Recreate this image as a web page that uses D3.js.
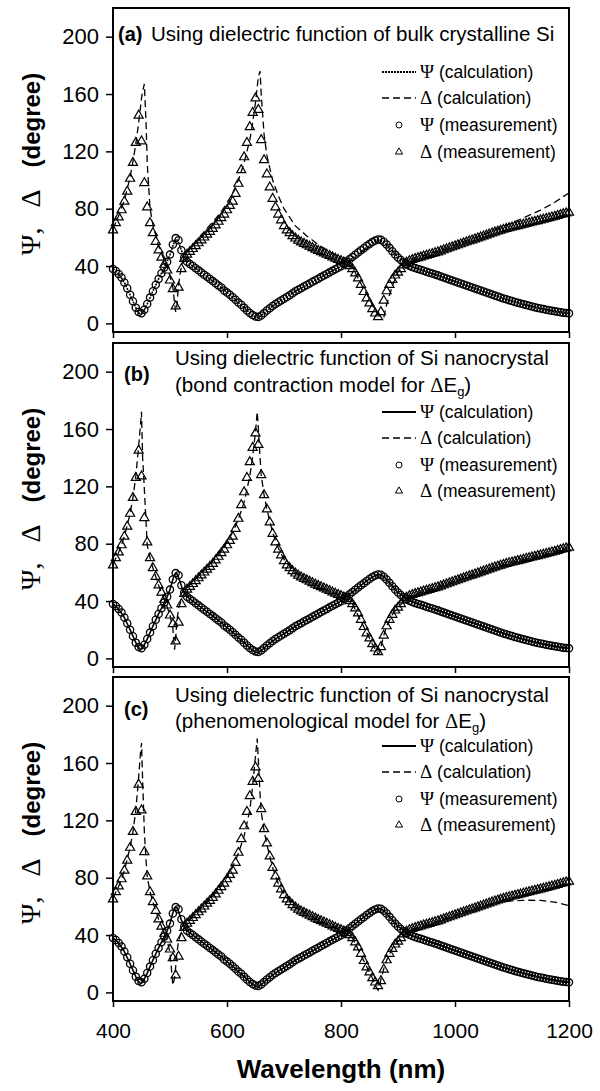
<!DOCTYPE html>
<html>
<head>
<meta charset="utf-8">
<script src="https://cdnjs.cloudflare.com/ajax/libs/d3/7.8.5/d3.min.js"></script>
<style>
  body { margin: 0; background: #fff; }
  svg { display: block; }
</style>
</head>
<body>
<script>
// measurement grid, 5 nm step
const measWl = d3.range(400, 1201, 5);

// measured ellipsometric angles (same sample in all three panels)
const psiMeas = [
  38, 36.5, 34.5, 32, 28.5, 24.5, 20, 15.5, 11, 8,
  7, 9.5, 13.5, 18, 22.5, 27, 31, 35, 39, 43,
  48, 55, 59.5, 58, 51, 46, 43, 41.5, 40, 38.5,
  37, 35.5, 34, 32.5, 31, 29.5, 28, 26.5, 25, 23,
  21.5, 20, 18.3, 16.5, 14.5, 13, 11, 9, 7.3, 5.8,
  4.8, 4.5, 5.5, 7.2, 9, 10.6, 12.1, 13.5, 14.8, 16,
  17.2, 18.4, 19.6, 21, 22.4, 23.5, 24.6, 25.7, 26.8, 27.9,
  29, 30.1, 31.2, 32.3, 33.4, 34.5, 35.6, 36.7, 37.8, 38.8,
  39.9, 41.5, 43.1, 44.7, 46.3, 47.9, 49.5, 51, 52.5, 54,
  55.4, 56.7, 57.8, 58.5, 58.3, 57, 55, 52.7, 50.3, 48,
  46, 44.2, 42.6, 41.3, 40.2, 39.3, 38.6, 38, 37.4, 36.7,
  36, 35.4, 34.8, 34.1, 33.5, 32.8, 32.1, 31.4, 30.7, 30,
  29.3, 28.6, 27.9, 27.2, 26.5, 25.8, 25.1, 24.4, 23.7, 23,
  22.3, 21.6, 20.9, 20.2, 19.5, 18.8, 18.1, 17.4, 16.8, 16.2,
  15.6, 15, 14.4, 13.8, 13.3, 12.8, 12.3, 11.8, 11.3, 10.8,
  10.4, 10, 9.6, 9.2, 8.8, 8.4, 8.1, 7.8, 7.5, 7.2,
  7
];
const deltaMeas = [
  65, 70, 74, 79, 85, 92, 101, 112, 126, 145,
  127, 98, 81, 70, 63, 57, 51, 46, 41, 37,
  30, 24, 12, 25, 38, 45, 48, 50, 52, 54,
  56, 58, 60, 62, 64, 66, 68.5, 71, 73.5, 76,
  79, 82, 85, 90.5, 97.5, 107, 116, 126, 137, 147,
  157, 149, 128, 114, 104, 95, 87, 81, 76, 72,
  68, 65, 63, 61, 59.3, 57.8, 56.6, 55.6, 54.6, 53.6,
  52.6, 51.6, 50.7, 49.8, 48.9, 48, 47.1, 46.2, 45.3, 44.4,
  43.6, 42.6, 41.5, 40, 38, 35, 31.5, 27, 22, 17.5,
  14, 10, 7, 4.5, 8, 16, 22.5, 27, 30.5, 33.5,
  35.5, 38, 40.5, 42.5, 43.5, 44.3, 45, 45.6, 46.2, 46.8,
  47.3, 47.9, 48.5, 49.1, 49.7, 50.4, 51.1, 51.8, 52.5, 53.2,
  53.9, 54.6, 55.3, 56, 56.7, 57.4, 58, 58.7, 59.4, 60.1,
  60.8, 61.5, 62.2, 62.9, 63.6, 64.2, 64.8, 65.4, 66, 66.5,
  67, 67.5, 68, 68.5, 69, 69.5, 70, 70.5, 71, 71.5,
  72, 72.5, 73, 73.5, 74, 74.5, 75.1, 75.7, 76.3, 76.8,
  77.3
];

// calculation grid (denser near the sharp features)
const calcWl = [
  400, 410, 420, 430, 435,
  440, 445, 448, 450, 452,
  455, 458, 460, 465, 470,
  480, 490, 495, 500, 505,
  508, 510, 512, 515, 520,
  525, 530, 540, 550, 560,
  570, 580, 590, 600, 610,
  620, 630, 640, 645, 650,
  653, 655, 658, 660, 665,
  670, 680, 690, 700, 720,
  740, 760, 780, 800, 820,
  840, 850, 855, 860, 865,
  868, 870, 875, 880, 890,
  900, 920, 940, 960, 980,
  1000, 1025, 1050, 1075, 1100,
  1125, 1150, 1175, 1200
];

// (a) bulk crystalline Si
const psiCalcA = [
  38, 34.5, 28.5, 20, 15.5,
  11, 7.5, 6.3, 6.5, 7.3,
  9.5, 11.8, 13.5, 18, 22.5,
  31, 39, 43, 48, 54,
  57, 58.5, 58.5, 56.5, 51,
  46, 43, 40, 37, 34,
  31, 28, 25, 21.5, 18.3,
  14.5, 11, 7.3, 5.6, 4.3,
  3.9, 4, 4.8, 5.5, 7.2,
  9, 12.1, 14.8, 17.2, 22.4,
  26.8, 31.2, 35.6, 39.9, 45.5,
  51.5, 54.5, 56, 57, 57.8,
  58, 57.8, 56.8, 55, 50.5,
  46, 40.2, 37.4, 34.8, 32.1,
  29.3, 25.8, 22.3, 18.8, 15.6,
  12.8, 10.4, 8.4, 7
];
const deltaCalcA = [
  66, 75, 86, 102, 113,
  125, 140, 150, 157, 162,
  167, 140, 112, 80, 69,
  54, 44, 39, 33, 25,
  14, 8, 12, 27, 40,
  46.5, 50, 55, 59.5, 64,
  68.5, 73, 78, 84, 91,
  100, 112, 128, 140, 154,
  165, 172, 176, 160, 132,
  117, 100, 89, 80, 68,
  61, 55, 50, 45, 39,
  24, 17, 13, 9, 6.5,
  5.5, 4.8, 4, 13, 26,
  36, 44, 46.5, 49, 51.5,
  54.5, 58, 62, 66, 70,
  74.5, 79, 84.5, 91
];

// (b) bond contraction model
const psiCalcB = [
  38, 34.5, 28.5, 20, 15.5,
  11, 7.5, 6.3, 6.5, 7.3,
  9.5, 11.8, 13.5, 18, 22.5,
  31, 39, 43, 48, 55,
  58.5, 59.5, 59, 56.5, 50.5,
  46, 43, 40, 37, 34,
  31, 28, 25, 21.5, 18.3,
  14.5, 11, 7.3, 5.6, 4.3,
  3.9, 4, 4.8, 5.5, 7.2,
  9, 12.1, 14.8, 17.2, 22.4,
  26.8, 31.2, 35.6, 39.9, 46.3,
  52.5, 55.4, 56.7, 57.8, 58.5,
  58.5, 58.3, 57, 55, 50.3,
  46, 40.2, 37.4, 34.8, 32.1,
  29.3, 25.8, 22.3, 18.8, 15.6,
  12.8, 10.4, 8.4, 7
];
const deltaCalcB = [
  66, 74, 85, 101, 112,
  127, 148, 162, 172, 140,
  118, 95, 79, 70, 63,
  51, 41, 36, 30, 21,
  6, 14, 26, 35, 41,
  45.5, 49, 53.5, 57.5, 61.5,
  65.5, 70, 75, 81, 88,
  97, 109, 127, 141, 158,
  172, 160, 140, 128, 114,
  104, 88, 77, 69, 59.5,
  54.6, 50.7, 47, 43.6, 38,
  22, 14, 10, 6.5, 3,
  4, 8, 16, 22.5, 30.5,
  35.5, 43.5, 46.2, 48.5, 51.1,
  53.9, 57.4, 60.8, 64.2, 67,
  69.5, 72, 74.5, 77.3
];

// (c) phenomenological model
const psiCalcC = [
  38, 34.5, 28.5, 20, 15.5,
  11, 7.5, 6.3, 6.5, 7.3,
  9.5, 11.8, 13.5, 18, 22.5,
  31, 39, 43, 48, 55.5,
  59, 59.8, 59, 56.5, 50.5,
  46, 43, 40, 37, 34,
  31, 28, 25, 21.5, 18.3,
  14.5, 11, 7.3, 5.6, 4.3,
  3.8, 3.9, 4.8, 5.5, 7.2,
  9, 12.1, 14.8, 17.2, 22.4,
  26.8, 31.2, 35.6, 39.9, 46.3,
  52.5, 55.4, 56.7, 57.8, 58.5,
  58.5, 58.3, 57, 55, 50.3,
  46, 40.2, 37.4, 34.8, 32.1,
  29.3, 25.8, 22.3, 18.8, 15.6,
  12.8, 10.4, 8.4, 7
];
const deltaCalcC = [
  66, 74, 85, 101, 112,
  127, 150, 166, 174, 148,
  112, 92, 81, 70, 63,
  51, 41, 36, 28, 5,
  10, 18, 27, 36, 42,
  45.5, 48.5, 53, 57, 61,
  65, 69.5, 74.5, 80.5, 87.5,
  97, 109, 127, 144, 165,
  177, 162, 138, 126, 113,
  103, 87, 76, 68.5, 59.3,
  54.6, 50.7, 47, 43.6, 38,
  22, 14, 10, 5, 1.5,
  5, 9, 16.5, 22.5, 30.5,
  35.5, 43.5, 46.2, 48.5, 51.1,
  53.9, 57.4, 60.5, 62.5, 63.8,
  64.3, 64.2, 63, 60.5
];

const panelLetters = ["(a)", "(b)", "(c)"];
const titleLine1 = [
  "Using dielectric function of bulk crystalline Si",
  "Using dielectric function of Si nanocrystal",
  "Using dielectric function of Si nanocrystal"
];
const titleLine2 = [
  null,
  "(bond contraction model for ",
  "(phenomenological model for "
];
const legendSymbols = ["Ψ", "Δ", "Ψ", "Δ"];
const legendTexts = [" (calculation)", " (calculation)", " (measurement)", " (measurement)"];
const xTicks = [400, 600, 800, 1000, 1200];
const yTicks = [0, 40, 80, 120, 160, 200];

const sans = "Arial, 'Liberation Sans', Helvetica, sans-serif";
const serif = "'Times New Roman', 'Liberation Serif', serif";

const width = 600, height = 1091;
const plotLeft = 113, plotRight = 569, plotH = 324;
const panelTops = [8, 343, 677];
// baselines of title lines / panel letter, relative to panel top
const titleY1 = [33, 22, 25];
const titleY2 = [null, 49, 51];
const letterY = [33, 38, 39];
// legend row centres, relative to panel top
const legendRows = [
  [64, 90, 117, 144],
  [69, 95, 122, 148],
  [69, 95, 122, 148]
];

const svg = d3.select("body").append("svg")
  .attr("width", width)
  .attr("height", height);

const x = d3.scaleLinear().domain([400, 1200]).range([plotLeft, plotRight]);
const y = d3.scaleLinear().domain([-6, 220]).range([plotH, 0]);

const panels = [
  { psi: psiCalcA, delta: deltaCalcA, psiDash: "2,1" },
  { psi: psiCalcB, delta: deltaCalcB, psiDash: null },
  { psi: psiCalcC, delta: deltaCalcC, psiDash: null }
];

const line = d3.line()
  .x(d => x(d[0]))
  .y(d => y(d[1]));

const triangle = d3.symbol().type(d3.symbolTriangle).size(36);

panels.forEach((p, i) => {
  const g = svg.append("g").attr("transform", `translate(0, ${panelTops[i]})`);

  // y axis
  const yAxis = g.append("g")
    .attr("transform", `translate(${plotLeft}, 0)`)
    .call(d3.axisLeft(y).tickValues(yTicks).tickSize(7).tickPadding(7));
  yAxis.select(".domain").remove();
  yAxis.selectAll("line").attr("stroke-width", 1.5);
  yAxis.selectAll("text")
    .attr("font-family", sans)
    .attr("font-size", 22)
    .attr("fill", "#000");

  // x axis (labels only on the last panel)
  const xAxis = g.append("g")
    .attr("transform", `translate(0, ${plotH})`)
    .call(d3.axisBottom(x).tickValues(xTicks).tickSize(6).tickPadding(16)
      .tickFormat(i === 2 ? d3.format("d") : ""));
  xAxis.select(".domain").remove();
  xAxis.selectAll("line").attr("stroke-width", 1.5);
  xAxis.selectAll("text")
    .attr("font-family", sans)
    .attr("font-size", 21)
    .attr("fill", "#000");

  // calculated curves
  g.append("path")
    .attr("d", line(d3.zip(calcWl, p.psi)))
    .attr("fill", "none")
    .attr("stroke", "#000")
    .attr("stroke-width", 1.6)
    .attr("stroke-dasharray", p.psiDash);

  g.append("path")
    .attr("d", line(d3.zip(calcWl, p.delta)))
    .attr("fill", "none")
    .attr("stroke", "#000")
    .attr("stroke-width", 1.3)
    .attr("stroke-dasharray", "7,4");

  // measurements
  g.append("g").selectAll("circle")
    .data(d3.zip(measWl, psiMeas))
    .enter().append("circle")
      .attr("cx", d => x(d[0]))
      .attr("cy", d => y(d[1]))
      .attr("r", 3.6)
      .attr("fill", "none")
      .attr("stroke", "#000")
      .attr("stroke-width", 1.3);

  g.append("g").selectAll("path")
    .data(d3.zip(measWl, deltaMeas))
    .enter().append("path")
      .attr("d", triangle)
      .attr("transform", d => `translate(${x(d[0])}, ${y(d[1])})`)
      .attr("fill", "none")
      .attr("stroke", "#000")
      .attr("stroke-width", 1.2);

  // frame
  g.append("rect")
    .attr("x", plotLeft)
    .attr("y", 0)
    .attr("width", plotRight - plotLeft)
    .attr("height", plotH)
    .attr("fill", "none")
    .attr("stroke", "#000")
    .attr("stroke-width", 2);

  // title
  g.append("text")
    .attr("x", i === 0 ? 118 : 124).attr("y", letterY[i])
    .attr("font-family", sans).attr("font-size", 20).attr("font-weight", "bold")
    .text(panelLetters[i]);
  g.append("text")
    .attr("x", i === 0 ? 151 : 175).attr("y", titleY1[i])
    .attr("font-family", sans).attr("font-size", 20.5)
    .text(titleLine1[i]);
  if (titleLine2[i]) {
    const t2 = g.append("text")
      .attr("x", 175).attr("y", titleY2[i])
      .attr("font-family", sans).attr("font-size", 20.5);
    t2.append("tspan").text(titleLine2[i]);
    t2.append("tspan").attr("font-family", serif).text("Δ");
    t2.append("tspan").text("E");
    t2.append("tspan").attr("dy", 4).attr("font-size", 13).text("g");
    t2.append("tspan").attr("dy", -4).text(")");
  }

  // legend
  const rows = legendRows[i];
  const lx0 = 382, lx1 = 416, lxm = (lx0 + lx1) / 2;
  const leg = g.append("g");
  leg.append("line")
    .attr("x1", lx0).attr("x2", lx1).attr("y1", rows[0]).attr("y2", rows[0])
    .attr("stroke", "#000").attr("stroke-width", i === 0 ? 2 : 1.8)
    .attr("stroke-dasharray", p.psiDash);
  leg.append("line")
    .attr("x1", lx0).attr("x2", lx1).attr("y1", rows[1]).attr("y2", rows[1])
    .attr("stroke", "#000").attr("stroke-width", 1.3)
    .attr("stroke-dasharray", "7,4");
  leg.append("circle")
    .attr("cx", lxm).attr("cy", rows[2]).attr("r", 3)
    .attr("fill", "none").attr("stroke", "#000").attr("stroke-width", 1);
  leg.append("path")
    .attr("d", d3.symbol().type(d3.symbolTriangle).size(22))
    .attr("transform", `translate(${lxm}, ${rows[3]})`)
    .attr("fill", "none").attr("stroke", "#000").attr("stroke-width", 1);
  rows.forEach((ry, k) => {
    const t = leg.append("text")
      .attr("x", 420).attr("y", ry).attr("dy", "0.35em")
      .attr("font-family", sans).attr("font-size", 17.5);
    t.append("tspan").attr("font-family", serif).attr("font-size", 19).text(legendSymbols[k]);
    t.append("tspan").text(legendTexts[k]);
  });

  // y label
  const yl = g.append("text")
    .attr("transform", `translate(40, ${plotH / 2 - 6}) rotate(-90)`)
    .attr("text-anchor", "middle");
  yl.append("tspan").attr("font-family", serif).attr("font-size", 28).text("Ψ,");
  yl.append("tspan").attr("dx", 20).attr("font-family", serif).attr("font-size", 28).text("Δ");
  yl.append("tspan").attr("dx", 22).attr("font-family", sans)
    .attr("font-weight", "bold").attr("font-size", 24).text("(degree)");
});

// x label
svg.append("text")
  .attr("x", (plotLeft + plotRight) / 2)
  .attr("y", 1078)
  .attr("text-anchor", "middle")
  .attr("font-family", sans)
  .attr("font-weight", "bold")
  .attr("font-size", 26)
  .text("Wavelength (nm)");
</script>
</body>
</html>
